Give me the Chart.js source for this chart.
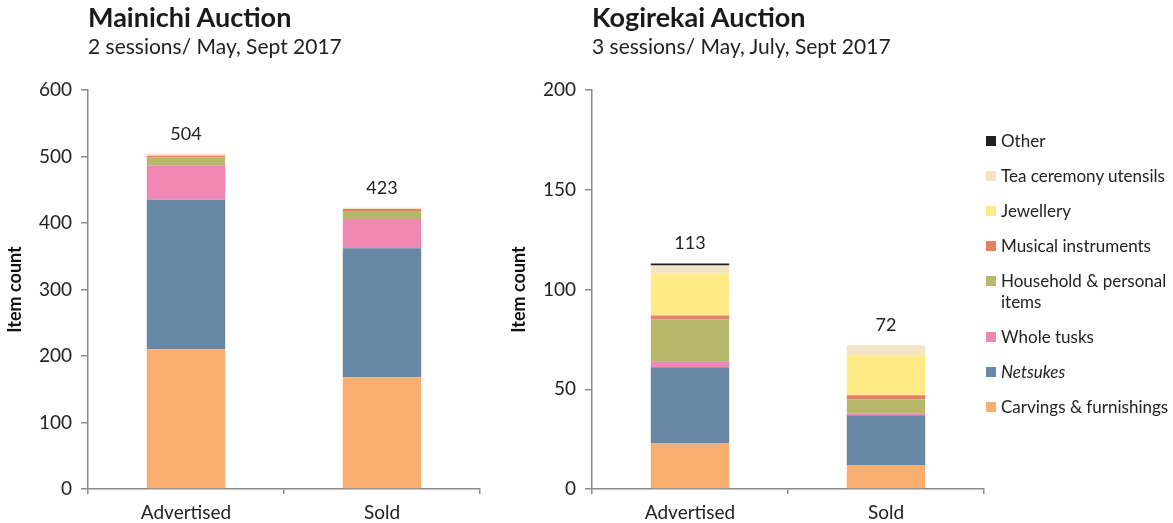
<!DOCTYPE html>
<html>
<head>
<meta charset="utf-8">
<script src="https://cdn.jsdelivr.net/npm/chart.js@4/dist/chart.umd.min.js"></script>
<style>
  body { margin: 0; width: 1173px; height: 523px; background: #fff; font-family: Lato, "Open Sans", sans-serif; color: #222; position: relative; overflow: hidden; }
  .box { position: absolute; top: 0; width: 490px; height: 523px; }
  .title { position: absolute; left: 88px; top: 0px; font-size: 27px; font-weight: bold; color: #1a1a1a; white-space: nowrap; }
  .sub { position: absolute; left: 88px; top: 33px; font-size: 21px; color: #222; white-space: nowrap; }
  #legend { position: absolute; left: 986px; top: 130px; width: 187px; font-size: 17px; line-height: 21px; }
  #legend .item { position: relative; padding-left: 15px; margin-bottom: 14px; }
  #legend .sw { position: absolute; left: 0; top: 6px; width: 10px; height: 10px; }
</style>
</head>
<body>
<div class="box" style="left:0"><canvas id="left" width="490" height="523"></canvas></div>
<div class="box" style="left:504px"><canvas id="right" width="490" height="523"></canvas></div>
<div class="title" style="left:88px">Mainichi Auction</div>
<div class="sub" style="left:88px">2 sessions/ May, Sept 2017</div>
<div class="title" style="left:592px">Kogirekai Auction</div>
<div class="sub" style="left:592px">3 sessions/ May, July, Sept 2017</div>
<div id="legend"></div>
<script>
const categories = ["Advertised", "Sold"];
const seriesNames = [
  "Carvings & furnishings",
  "Netsukes",
  "Whole tusks",
  "Household & personal items",
  "Musical instruments",
  "Jewellery",
  "Tea ceremony utensils",
  "Other",
];
const seriesColors = ["#f8ae6e", "#6787a4", "#f088b4", "#b8b86a", "#e47f68", "#feeb88", "#f3e4c6", "#231f20"];

// Mainichi Auction, [Advertised, Sold]
const mainichiCarvings = [210, 168];
const mainichiNetsukes = [225, 194];
const mainichiTusks = [52, 44];
const mainichiHousehold = [12, 12];
const mainichiMusical = [2, 3];
const mainichiJewellery = [0, 0];
const mainichiTea = [3, 2];
const mainichiOther = [0, 0];
const mainichiTicks = [0, 100, 200, 300, 400, 500, 600];

// Kogirekai Auction, [Advertised, Sold]
const kogiCarvings = [23, 12];
const kogiNetsukes = [38, 25];
const kogiTusks = [3, 1];
const kogiHousehold = [21, 7];
const kogiMusical = [2, 2];
const kogiJewellery = [21, 20];
const kogiTea = [4, 5];
const kogiOther = [1, 0];
const kogiTicks = [0, 50, 100, 150, 200];

const axisColor = "#8a8a8a";
const fontFamily = "Lato, 'Open Sans', sans-serif";
const tickFont = { family: fontFamily, size: 19 };

const totalsPlugin = {
  id: "totals",
  afterDatasetsDraw(chart) {
    const { ctx, scales } = chart;
    ctx.save();
    ctx.font = "18px " + fontFamily;
    ctx.fillStyle = "#222";
    ctx.textAlign = "center";
    ctx.textBaseline = "middle";
    chart.data.labels.forEach((label, i) => {
      const total = chart.data.datasets.reduce((s, d) => s + d.data[i], 0);
      const x = scales.x.getPixelForValue(i);
      const y = scales.y.getPixelForValue(total);
      ctx.fillText(String(total), x, y - 20);
    });
    ctx.restore();
  },
};

function makeChart(id, seriesData, ticks) {
  const datasets = seriesData.map((data, i) => ({
    label: seriesNames[i],
    data,
    backgroundColor: seriesColors[i],
    borderWidth: 0,
    categoryPercentage: 1,
    barPercentage: 0.4,
  }));
  return new Chart(document.getElementById(id), {
    type: "bar",
    data: { labels: categories, datasets },
    plugins: [totalsPlugin],
    options: {
      responsive: false,
      animation: false,
      layout: { padding: { top: 90, right: 10, left: 0, bottom: 0 } },
      plugins: { legend: { display: false }, tooltip: { enabled: false } },
      scales: {
        x: {
          stacked: true,
          grid: { drawOnChartArea: false, color: axisColor, tickLength: 5, lineWidth: 1.5 },
          border: { color: axisColor, width: 1.5 },
          ticks: { color: "#222", font: tickFont, padding: 7 },
          afterFit: (scale) => { scale.height = 34; },
        },
        y: {
          stacked: true,
          min: ticks[0],
          max: ticks[ticks.length - 1],
          afterBuildTicks: (scale) => { scale.ticks = ticks.map((v) => ({ value: v })); },
          grid: { drawOnChartArea: false, color: axisColor, tickLength: 7, lineWidth: 1.5 },
          border: { color: axisColor, width: 1.5 },
          ticks: { color: "#222", font: tickFont, padding: 9 },
          title: { display: true, text: "Item count", color: "#111", font: { family: fontFamily, size: 18, weight: "bold" } },
          afterFit: (scale) => { scale.width = 88; },
        },
      },
    },
  });
}

makeChart("left", [mainichiCarvings, mainichiNetsukes, mainichiTusks, mainichiHousehold, mainichiMusical, mainichiJewellery, mainichiTea, mainichiOther], mainichiTicks);
makeChart("right", [kogiCarvings, kogiNetsukes, kogiTusks, kogiHousehold, kogiMusical, kogiJewellery, kogiTea, kogiOther], kogiTicks);

// legend, top item is the last series
const legendEl = document.getElementById("legend");
for (let i = seriesNames.length - 1; i >= 0; i--) {
  const item = document.createElement("div");
  item.className = "item";
  const sw = document.createElement("span");
  sw.className = "sw";
  sw.style.background = seriesColors[i];
  const txt = document.createElement("span");
  txt.textContent = seriesNames[i];
  if (seriesNames[i] === "Netsukes") txt.style.fontStyle = "italic";
  item.appendChild(sw);
  item.appendChild(txt);
  legendEl.appendChild(item);
}
</script>
</body>
</html>
